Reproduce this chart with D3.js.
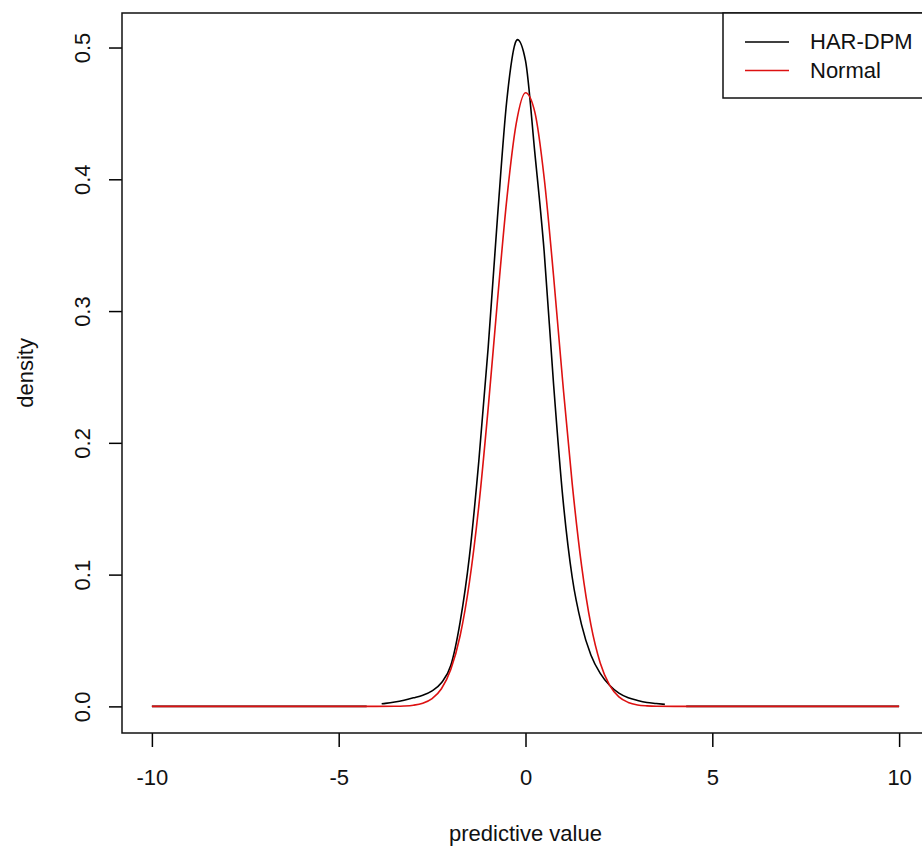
<!DOCTYPE html>
<html>
<head>
<meta charset="utf-8">
<script src="https://cdn.jsdelivr.net/npm/d3@7"></script>
<style>
  body { margin: 0; background: white; }
  text { font-family: "Liberation Sans", Arial, sans-serif; }
</style>
</head>
<body>
<script>
// HAR-DPM predictive density (null = gap in the drawn line)
let harX = [-10, -4.25, -4.05, -3.85, -3.75, -3.5, -3.25, -3, -2.75, -2.5, -2.25, -2, -1.75, -1.5, -1.25, -1, -0.75, -0.5, -0.25, -0.22,
            0, 0.25, 0.5, 0.75, 1, 1.25, 1.5, 1.75, 2, 2.25, 2.5, 2.75, 3, 3.25, 3.5, 3.73, 4.0, 4.3, 10]
let harY = [0, 0, null, 0.002, 0.0023, 0.0033, 0.0047, 0.0065, 0.0085, 0.0118, 0.018, 0.031, 0.064, 0.114, 0.186, 0.272, 0.371, 0.46, 0.505, 0.506,
            0.49, 0.42, 0.345, 0.245, 0.158, 0.098, 0.062, 0.039, 0.025, 0.016, 0.010, 0.0065, 0.0045, 0.003, 0.0022, 0.0015, null, 0, 0]

// Normal predictive density
let normX = [-10, -4, -3.5, -3.25, -3, -2.75, -2.5, -2.25, -2, -1.75, -1.5, -1.25, -1, -0.75, -0.5, -0.25,
             0, 0.25, 0.5, 0.75, 1, 1.25, 1.5, 1.75, 2, 2.25, 2.5, 2.75, 3, 3.25, 3.5, 4, 10]
let normY = [0, 0, 0.0001, 0.0003, 0.0009, 0.0024, 0.0059, 0.0134, 0.028, 0.0536, 0.0944, 0.152, 0.226, 0.308, 0.385, 0.442,
             0.4657, 0.451, 0.401, 0.327, 0.245, 0.169, 0.107, 0.062, 0.033, 0.0161, 0.0072, 0.003, 0.0011, 0.0004, 0.0001, 0, 0]

let xTicks = [-10, -5, 0, 5, 10]
let yTicks = [0, 0.1, 0.2, 0.3, 0.4, 0.5]
let seriesNames = ['HAR-DPM', 'Normal']
let seriesColors = ['#000000', '#dd1111']

let
  width = 922,
  height = 850;

// plot box (right edge runs past the window, like the original crop)
let box = { left: 122, top: 13, right: 929, bottom: 733 }

let svg = d3.select('body')
            .append('svg')
            .attr('width', width)
            .attr('height', height)
            .style('background', 'white')

let xScale = d3.scaleLinear()
              .domain([-10.8, 10.8])
              .range([box.left, box.right])

let yScale = d3.scaleLinear()
              .domain([-0.0202, 0.5262])
              .range([box.bottom, box.top])

// axes, R style: outward ticks, labels well away from the box
let xAxis = svg.append('g')
            .attr('transform', `translate(0, ${box.bottom})`)
            .call(d3.axisBottom(xScale).tickValues(xTicks).tickSize(14).tickFormat(d => String(d)))
xAxis.select('.domain').remove()

let yAxis = svg.append('g')
            .attr('transform', `translate(${box.left}, 0)`)
            .call(d3.axisLeft(yScale).tickValues(yTicks).tickSize(13).tickFormat(d => d.toFixed(1)))
yAxis.select('.domain').remove()

svg.selectAll('.tick line').attr('stroke', '#000').attr('stroke-width', 1.5)
xAxis.selectAll('.tick text')
     .attr('font-size', 22).attr('fill', '#111')
     .attr('dy', null).attr('y', 52)
yAxis.selectAll('.tick text')
     .attr('font-size', 22).attr('fill', '#111')
     .attr('x', null).attr('dy', null)
     .attr('text-anchor', 'middle')
     .attr('transform', 'translate(-32, 0) rotate(-90)')

// lines
let line = d3.line()
             .defined(d => d[1] !== null)
             .x(d => xScale(d[0]))
             .y(d => yScale(d[1]))
             .curve(d3.curveMonotoneX)

svg.append('path')
   .datum(d3.zip(harX, harY))
   .attr('d', line)
   .attr('fill', 'none')
   .attr('stroke', seriesColors[0])
   .attr('stroke-width', 1.6)

svg.append('path')
   .datum(d3.zip(normX, normY))
   .attr('d', line)
   .attr('fill', 'none')
   .attr('stroke', seriesColors[1])
   .attr('stroke-width', 1.6)

// box
svg.append('rect')
   .attr('x', box.left)
   .attr('y', box.top)
   .attr('width', box.right - box.left)
   .attr('height', box.bottom - box.top)
   .attr('fill', 'none')
   .attr('stroke', '#111')
   .attr('stroke-width', 1.5)

// Draw the Labels
svg.append('text')
   .attr('x', xScale(0))
   .attr('y', 841)
   .text('predictive value')
   .attr('font-size', 22)
   .attr('fill', '#111')
   .style('text-anchor', 'middle')

svg.append('text')
   .attr('transform', `translate(33, ${yScale(0.2531)}) rotate(-90)`)
   .text('density')
   .attr('font-size', 22)
   .attr('fill', '#111')
   .style('text-anchor', 'middle')

// legend in the top-right corner
let legend = svg.append('g')
legend.append('rect')
      .attr('x', 723)
      .attr('y', box.top)
      .attr('width', box.right - 723)
      .attr('height', 85)
      .attr('fill', 'white')
      .attr('stroke', '#111')
      .attr('stroke-width', 1.5)

seriesNames.forEach((name, i) => {
  legend.append('line')
        .attr('x1', 745).attr('x2', 789)
        .attr('y1', 42 + i * 28.5).attr('y2', 42 + i * 28.5)
        .attr('stroke', seriesColors[i])
        .attr('stroke-width', 1.6)
  legend.append('text')
        .attr('x', 810)
        .attr('y', 49 + i * 28.5)
        .text(name)
        .attr('font-size', 22)
        .attr('fill', '#111')
})
</script>
</body>
</html>
